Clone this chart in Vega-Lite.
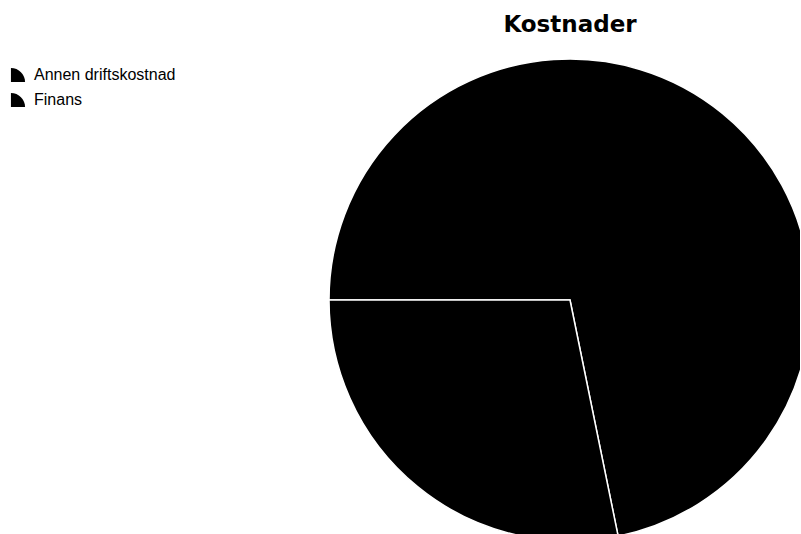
{
  "$schema": "https://vega.github.io/schema/vega-lite/v6.json",
  "autosize": "none",
  "width": 460,
  "height": 482,
  "padding": {"left": 340, "top": 59, "right": 0, "bottom": 0},
  "background": "white",
  "title": {
    "text": "Kostnader",
    "anchor": "middle",
    "font": "DejaVu Sans",
    "fontSize": 23,
    "fontWeight": "bold",
    "color": "black",
    "offset": 19
  },
  "data": {
    "values": [
      {"kategori": "Annen driftskostnad", "andel": 71.8},
      {"kategori": "Finans", "andel": 28.2}
    ]
  },
  "mark": {"type": "arc", "radius": 241, "stroke": "white", "strokeWidth": 1.5},
  "encoding": {
    "theta": {
      "field": "andel",
      "type": "quantitative",
      "stack": true,
      "scale": {"range": [4.712389, 10.995574]}
    },
    "color": {
      "field": "kategori",
      "type": "nominal",
      "sort": ["Annen driftskostnad", "Finans"],
      "scale": {"range": ["black", "black"]},
      "legend": {
        "title": null,
        "orient": "none",
        "legendX": -330,
        "legendY": 8,
        "symbolType": "M-1,-1 A2,2 0 0,1 1,1 L-1,1 Z",
        "symbolSize": 200,
        "symbolStrokeWidth": 0,
        "labelFont": "Liberation Sans",
        "labelFontSize": 16,
        "labelColor": "black",
        "labelOffset": 8,
        "rowPadding": 9
      }
    }
  }
}
